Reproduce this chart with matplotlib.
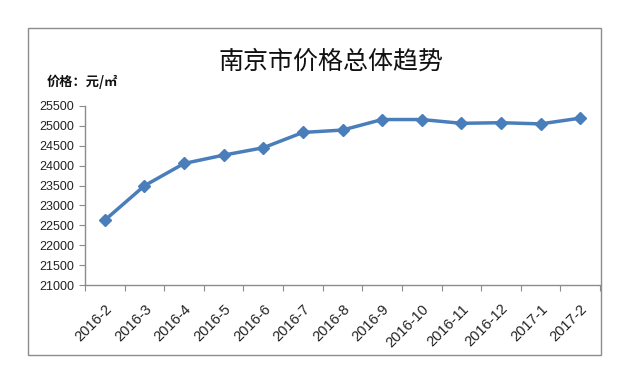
import matplotlib
matplotlib.use("Agg")
import matplotlib.pyplot as plt
from matplotlib.patches import Rectangle
from matplotlib.transforms import ScaledTranslation

plt.rcParams['font.family'] = ['Liberation Sans', 'Noto Sans CJK SC', 'DejaVu Sans']

months = ["2016-2", "2016-3", "2016-4", "2016-5", "2016-6", "2016-7", "2016-8",
          "2016-9", "2016-10", "2016-11", "2016-12", "2017-1", "2017-2"]
prices = [22630, 23495, 24055, 24265, 24450, 24835, 24895,
          25160, 25160, 25065, 25080, 25050, 25195]
yticks = [21000, 21500, 22000, 22500, 23000, 23500, 24000, 24500, 25000, 25500]

W, H = 632, 382
fig = plt.figure(figsize=(W / 100, H / 100), dpi=100)
fig.patch.set_facecolor("white")

# outer border
fig.add_artist(Rectangle((28 / W, 1 - 355 / H), (601 - 28) / W, (355 - 28) / H,
                         transform=fig.transFigure, fill=False,
                         edgecolor="#8c8c8c", linewidth=1.0))

ax = fig.add_axes([85 / W, 1 - 285 / H, (600 - 85) / W, (285 - 106) / H])
x = list(range(len(months)))
ax.plot(x, prices, color="#4A7EBB", linewidth=2.5, marker="D", markersize=6.5,
        markerfacecolor="#4A7EBB", markeredgecolor="#4A7EBB", zorder=3)

ax.set_xlim(-0.5, len(months) - 0.5)
ax.set_ylim(21000, 25500)
ax.set_yticks(yticks)
ax.set_yticklabels([str(v) for v in yticks], fontsize=9, color="#222222")
ax.tick_params(axis="y", direction="out", length=4, color="#8c8c8c", pad=4)

ax.set_xticks([i - 0.5 for i in range(len(months) + 1)])
ax.set_xticklabels([])
ax.set_xticks(x, minor=True)
labels = ax.set_xticklabels(months, minor=True, rotation=45, ha="right", va="top",
                            rotation_mode="anchor", fontsize=10.5, color="#222222")
offset = ScaledTranslation(4 / 100, 0, fig.dpi_scale_trans)
for lab in labels:
    lab.set_transform(lab.get_transform() + offset)
ax.tick_params(axis="x", which="major", direction="out", length=4, color="#8c8c8c")
ax.tick_params(axis="x", which="minor", length=0, pad=12)

for s in ["top", "right"]:
    ax.spines[s].set_visible(False)
for s in ["left", "bottom"]:
    ax.spines[s].set_color("#8c8c8c")
    ax.spines[s].set_linewidth(1.0)

fig.text((222 + 440) / 2 / W, 1 - 62 / H, "南京市价格总体趋势", ha="center", va="center",
         fontsize=18, family=['Noto Sans CJK SC', 'DejaVu Sans'], color="#111111")
fig.text(47 / W, 1 - 82 / H, "价格：元/㎡", ha="left", va="center", fontsize=9.5,
         fontweight="bold", family=['Noto Sans CJK SC', 'DejaVu Sans'], color="#111111")

fig.savefig("out.png", dpi=100)
